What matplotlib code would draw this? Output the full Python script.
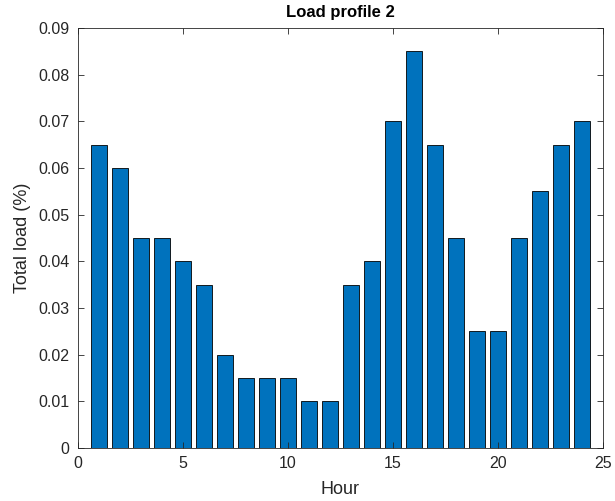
import matplotlib
matplotlib.use("Agg")
import matplotlib.pyplot as plt

hours = list(range(1, 25))
load = [0.065, 0.060, 0.045, 0.045, 0.040, 0.035, 0.020, 0.015,
        0.015, 0.015, 0.010, 0.010, 0.035, 0.040, 0.070, 0.085,
        0.065, 0.045, 0.025, 0.025, 0.045, 0.055, 0.065, 0.070]
x_ticks = [0, 5, 10, 15, 20, 25]
y_ticks = [0, 0.01, 0.02, 0.03, 0.04, 0.05, 0.06, 0.07, 0.08, 0.09]

plt.rcParams["font.family"] = ["Liberation Sans", "DejaVu Sans"]

W, H = 615, 501
fig = plt.figure(figsize=(W / 100, H / 100), dpi=100)
ax = fig.add_axes([78 / W, 1 - 448 / H, (603 - 78) / W, (448 - 28) / H])

ax.bar(hours, load, width=0.8, color="#0072BD", edgecolor="black", linewidth=0.6)

ax.set_xlim(0, 25)
ax.set_ylim(0, 0.09)
ax.set_xticks(x_ticks)
ax.set_yticks(y_ticks)
ax.set_yticklabels([f"{v:g}" for v in y_ticks])

axis_col = "#262626"
for s in ax.spines.values():
    s.set_color(axis_col)
    s.set_linewidth(0.6)
ax.tick_params(direction="in", length=4, width=0.6, colors=axis_col,
               labelsize=11.5, top=True, right=True, pad=6)
for lbl in ax.get_xticklabels() + ax.get_yticklabels():
    lbl.set_color(axis_col)

ax.set_xlabel("Hour", fontsize=13, color=axis_col, labelpad=7)
ax.set_ylabel("Total load (%)", fontsize=13, color=axis_col, labelpad=5)
ax.set_title("Load profile 2", fontsize=12, fontweight="bold", pad=8)

fig.savefig("out.png", dpi=100)
